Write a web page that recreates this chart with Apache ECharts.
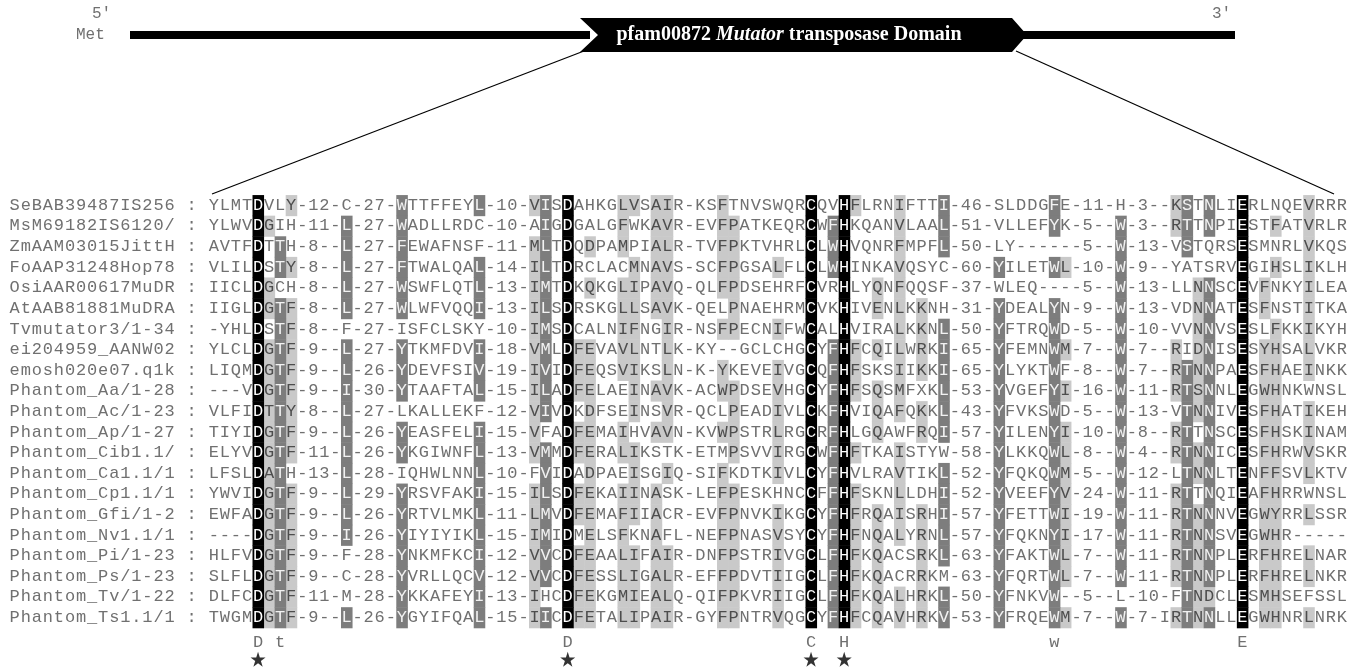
<!DOCTYPE html>
<html>
<head>
<meta charset="utf-8">
<script src="https://cdn.jsdelivr.net/npm/echarts/dist/echarts.min.js"></script>
<style>
html,body{margin:0;padding:0;background:#fff;}
#chart{width:1363px;height:669px;}
</style>
</head>
<body>
<div id="chart"></div>
<script>
// ---------------- DATA ----------------
const names = [
  "SeBAB39487IS256","MsM69182IS6120/","ZmAAM03015JittH","FoAAP31248Hop78","OsiAAR00617MuDR",
  "AtAAB81881MuDRA","Tvmutator3/1-34","ei204959_AANW02","emosh020e07.q1k","Phantom_Aa/1-28",
  "Phantom_Ac/1-23","Phantom_Ap/1-27","Phantom_Cib1.1/","Phantom_Ca1.1/1","Phantom_Cp1.1/1",
  "Phantom_Gfi/1-2","Phantom_Nv1.1/1","Phantom_Pi/1-23","Phantom_Ps/1-23","Phantom_Tv/1-22",
  "Phantom_Ts1.1/1"
];
const seqs = [
  "YLMTDVLY-12-C-27-WTTFFEYL-10-VISDAHKGLVSAIR-KSFTNVSWQRCQVHFLRNIFTTI-46-SLDDGFE-11-H-3--KSTNLIERLNQEVRRR",
  "YLWVDGIH-11-L-27-WADLLRDC-10-AIGDGALGFWKAVR-EVFPATKEQRCWFHKQANVLAAL-51-VLLEFYK-5--W-3--RTTNPIESTFATVRLR",
  "AVTFDTTH-8--L-27-FEWAFNSF-11-MLTDQDPAMPIALR-TVFPKTVHRLCLWHVQNRFMPFL-50-LY------5--W-13-VSTQRSESMNRLVKQS",
  "VLILDSTY-8--L-27-FTWALQAL-14-ILTDRCLACMNAVS-SCFPGSALFLCLWHINKAVQSYC-60-YILETWL-10-W-9--YATSRVEGIHSLIKLH",
  "IICLDGCH-8--L-27-WSWFLQTL-13-IMTDKQKGLIPAVQ-QLFPDSEHRFCVRHLYQNFQQSF-37-WLEQ----5--W-13-LLNNSCEVFNKYILEA",
  "IIGLDGTF-8--L-27-WLWFVQQI-13-ILSDRSKGLLSAVK-QELPNAEHRMCVKHIVENLKKNH-31-YDEALYN-9--W-13-VDNNATESFNSTITKA",
  "-YHLDSTF-8--F-27-ISFCLSKY-10-IMSDCALNIFNGIR-NSFPECNIFWCALHVIRALKKNL-50-YFTRQWD-5--W-10-VVNNVSESLFKKIKYH",
  "YLCLDGTF-9--L-27-YTKMFDVI-18-VMLDFEVAVLNTLK-KY--GCLCHGCYFHFCQILWRKI-65-YFEMNWM-7--W-7--RIDNISESYHSALVKR",
  "LIQMDGTF-9--L-26-YDEVFSIV-19-IVIDFEQSVIKSLN-K-YKEVEIVGCQFHFSKSIIKKI-65-YLYKTWF-8--W-7--RTNNPAESFHAEINKK",
  "---VDGTF-9--I-30-YTAAFTAL-15-ILADFELAEINAVK-ACWPDSEVHGCYFHFSQSMFXKL-53-YVGEFYI-16-W-11-RTSNNLEGWHNKWNSL",
  "VLFIDTTY-8--L-27-LKALLEKF-12-VIVDKDFSEINSVR-QCLPEADIVLCKFHVIQAFQKKL-43-YFVKSWD-5--W-13-VTNNIVESFHATIKEH",
  "TIYIDGTF-9--L-26-YEASFELI-15-VFADFEMAIHVAVN-KVWPSTRLRGCRFHLGQAWFRQI-57-YILENYI-10-W-8--RTTNSCESFHSKINAM",
  "ELYVDGTF-11-L-26-YKGIWNFL-13-VMMDFERALIKSTK-ETMPSVVIRGCWFHFTKAISTYW-58-YLKKQWL-8--W-4--RTNNICESFHRWVSKR",
  "LFSLDATH-13-L-28-IQHWLNNL-10-FVIDADPAEISGIQ-SIFKDTKIVLCYFHVLRAVTIKL-52-YFQKQWM-5--W-12-LTNNLTENFFSVLKTV",
  "YWVIDGTF-9--L-29-YRSVFAKI-15-ILSDFEKAIINASK-LEFPESKHNCCFFHFSKNLLDHI-52-YVEEFYV-24-W-11-RTTNQIEAFHRRWNSL",
  "EWFADGTF-9--L-26-YRTVLMKL-11-LMVDFEMAFIIACR-EVFPNVKIKGCYFHFRQAISRHI-57-YFETTWI-19-W-11-RTNNNVEGWYRRLSSR",
  "----DGTF-9--I-26-YIYIYIKL-15-IMIDMELSFKNAFL-NEFPNASVSYCYFHFNQALYRNL-57-YFQKNYI-17-W-11-RTNNSVEGWHR-----",
  "HLFVDGTF-9--F-28-YNKMFKCI-12-VVCDFEAALIFAIR-DNFPSTRIVGCLFHFKQACSRKL-63-YFAKTWL-7--W-11-RTNNPLERFHRELNAR",
  "SLFLDGTF-9--C-28-YVRLLQCV-12-VVCDFESSLIGALR-EFFPDVTIIGCLFHFKQACRRKM-63-YFQRTWL-7--W-11-RTNNPLERFHRELNKR",
  "DLFCDGTF-11-M-28-YKKAFEYI-13-IHCDFEKGMIEALQ-QIFPKVRIIGCLFHFKQALHRKL-50-YFNKVW--5--L-10-FTNDCLESMHSEFSSL",
  "TWGMDGTF-9--L-26-YGYIFQAL-15-IICDFETALIPAIR-GYFPNTRVQGCYFHFCQAVHRKV-53-YFRQEWM-7--W-7-IRTNNLLEGWHNRLNRK"
];
// consensus line and catalytic-residue stars (column numbers of the alignment)
const consensusCols  = [5, 7, 33, 55, 58, 77, 94];
const consensusChars = ["D","t","D","C","H","w","E"];
const starCols = [5, 33, 55, 58];
// shading: 100% (black) columns, and per-column rows in dark / light grey
const blackCols = [5, 33, 55, 58, 94];
const darkCells = {
  7:  [3,4,6,7,8,9,10,11,12,13,14,15,16,17,18,19,20,21],
  13: [2,3,4,5,6,8,9,10,11,12,13,14,15,16,17,21],
  18: [1,2,3,4,5,6,8,9,10,12,13,15,16,17,18,19,20,21],
  25: [1,4,5,6,8,9,10,12,13,14,15,16,17,18,19,20,21],
  31: [1,2,3,4,5,6,7,8,9,10,11,13,14,15,16,17,18,19,21],
  57: [2,3,4,8,9,10,11,12,13,14,15,16,17,18,19,20,21],
  67: [1,2,3,7,8,9,10,11,12,14,15,16,17,18,20,21],
  72: [4,6,7,8,9,10,11,12,13,14,15,16,17,18,19,20,21],
  77: [1,2,4,6,7,8,9,10,11,12,13,14,15,16,17,18,19,20,21],
  83: [2,3,4,5,6,7,8,9,10,11,12,13,14,15,16,17,18,19,21],
  89: [1,2,3,9,10,11,12,13,14,15,16,17,18,19,20,21],
  91: [1,2,5,6,7,8,9,10,11,12,13,14,15,16,17,18,19,21]
};
const lightCells = {
  6:   [2,5,6,8,9,10,11,12,13,14,15,16,17,18,19,20,21],
  8:   [1,4,6,7,8,9,10,11,12,13,15,16,17,18,19,20,21],
  30:  [1,3,4,5,6,7,8,9,10,11,12,13,15,16,17,18,19,20,21],
  34:  [8,9,10,12,13,15,16,18,19,20,21],
  35:  [3,5,8,9,10,11,12,13,14,15,16,17,18,19,20,21],
  38:  [1,2,3,5,6,7,8,9,12,13,15,16,17,18,19,20,21],
  39:  [1,4,5,6,7,8,9,10,11,13,14,15,16,18,19,20,21],
  41:  [1,2,3,4,5,6,10,12,15,16,17,18,19,20,21],
  42:  [1,2,3,4,5,6,7,8,9,10,11,12,14,18,19,20,21],
  47:  [1,2,3,4,5,7,9,10,12,14,15,16,17,18,19,20,21],
  48:  [2,3,4,5,6,7,10,11,12,13,15,16,17,18,19,20,21],
  52:  [4,7,9,10,11,12,13,14,16,17,18,19,20,21],
  59:  [1,8,9,10,13,15,16,17,18,19,20,21],
  61:  [5,6,8,10,11,12,16,17,18,19,20,21],
  63:  [1,2,3,4,5,6,7,8,9,10,11,13,14,15,16,17,20,21],
  65:  [6,7,8,9,11,12,16,17,18,19,20,21],
  78:  [4,8,10,12,13,14,15,16,17,18,19,21],
  88:  [1,2,8,9,10,12,13,15,16,17,18,19,21],
  90:  [5,6,7,8,9,10,11,13,14,16,17,18,19,20,21],
  91:  [20],
  96:  [5,6,8,9,10,11,12,13,14,15,16,17,18,19,20,21],
  97:  [2,4,7,8,9,10,11,12,13,14,15,16,17,18,19,20,21],
  100: [1,2,3,4,5,6,7,8,9,11,12,13,14,16,18,19,21]
};

// ---------------- BUILD ----------------
const nRows = seqs.length;
const level = {};                       // "col,row" -> 1 light, 2 dark, 3 black
Object.keys(lightCells).forEach(c => lightCells[c].forEach(r => level[c + "," + r] = 1));
Object.keys(darkCells).forEach(c => darkCells[c].forEach(r => level[c + "," + r] = 2));
blackCols.forEach(c => { for (let r = 1; r <= nRows; r++) level[c + "," + r] = 3; });

const shadeData = Object.keys(level).map(k => {
  const p = k.split(",").map(Number);
  return [p[0], p[1], level[k]];
});
const resData = [];
seqs.forEach((s, i) => {
  for (let j = 0; j < s.length; j++) {
    resData.push([j + 1, i + 1, level[(j + 1) + "," + (i + 1)] || 0]);
  }
});
const nameData = [];
names.forEach((n, i) => {
  const label = n + " :";
  for (let k = 0; k < label.length; k++) {
    if (label[k] !== " ") nameData.push([k - 17, i + 1, k]);
  }
});

const CONS_ROW = 22.2;
const STAR_ROW = 23.03;
const FONT = '17px "Liberation Mono", "DejaVu Sans Mono", monospace';
const shadeColors = [null, "#c9c9c9", "#7d7d7d", "#000000"];
const textColors  = ["#707070", "#4d4d4d", "#f2f2f2", "#ffffff"];

function textEl(api, ch, color) {
  const c = api.coord([api.value(0), api.value(1)]);
  return {
    type: "text",
    x: c[0], y: c[1],
    style: { text: ch, fill: color, font: FONT, align: "center", verticalAlign: "middle" },
    silent: true
  };
}

const chart = echarts.init(document.getElementById("chart"), null, { renderer: "canvas" });
chart.setOption({
  animation: false,
  backgroundColor: "#ffffff",
  grid: { left: 3.66, top: 184.76, width: 1349.32, height: 485.04 },
  xAxis: { type: "value", min: -18, max: 104, show: false },
  yAxis: { type: "value", min: 0, max: 23.5, inverse: true, show: false },
  graphic: [
    { type: "text", left: 92, top: 6, style: { text: "5\u2032", font: '16px "Liberation Mono", monospace', fill: "#707070" } },
    { type: "text", left: 1212, top: 6, style: { text: "3\u2032", font: '16px "Liberation Mono", monospace', fill: "#707070" } },
    { type: "text", left: 76, top: 27, style: { text: "Met", font: '16px "Liberation Mono", monospace', fill: "#707070" } },
    { type: "rect", shape: { x: 130, y: 31, width: 460, height: 8 }, style: { fill: "#000" } },
    { type: "rect", shape: { x: 1015, y: 31, width: 220, height: 8 }, style: { fill: "#000" } },
    { type: "polygon", shape: { points: [[580, 18], [1012, 18], [1027, 35], [1012, 52], [580, 52], [598, 35]] }, style: { fill: "#000" } },
    { type: "text", x: 789, y: 35, style: {
        text: "{b|pfam00872 }{i|Mutator}{b| transposase Domain}",
        align: "center", verticalAlign: "middle",
        rich: {
          b: { fontFamily: '"Liberation Serif", serif', fontWeight: "bold", fontSize: 20, fill: "#fff", color: "#fff" },
          i: { fontFamily: '"Liberation Serif", serif', fontWeight: "bold", fontStyle: "italic", fontSize: 20, fill: "#fff", color: "#fff" }
        } } },
    { type: "line", shape: { x1: 584, y1: 51, x2: 212, y2: 194 }, style: { stroke: "#000", lineWidth: 1.2 } },
    { type: "line", shape: { x1: 1016, y1: 51, x2: 1334, y2: 194 }, style: { stroke: "#000", lineWidth: 1.2 } }
  ],
  series: [
    {
      type: "custom", name: "shade", silent: true,
      data: shadeData,
      renderItem: function (params, api) {
        const c = api.coord([api.value(0), api.value(1)]);
        const s = api.size([1, 1]);
        return {
          type: "rect",
          shape: { x: c[0] - s[0] / 2, y: c[1] - s[1] / 2, width: s[0] + 0.5, height: s[1] + 0.5 },
          style: { fill: shadeColors[api.value(2)] }
        };
      }
    },
    {
      type: "custom", name: "residues", silent: true,
      data: resData,
      renderItem: function (params, api) {
        const col = api.value(0), row = api.value(1);
        return textEl(api, seqs[row - 1][col - 1], textColors[api.value(2)]);
      }
    },
    {
      type: "custom", name: "names", silent: true,
      data: nameData,
      renderItem: function (params, api) {
        const row = api.value(1), k = api.value(2);
        return textEl(api, (names[row - 1] + " :")[k], "#707070");
      }
    },
    {
      type: "custom", name: "consensus", silent: true,
      data: consensusCols.map(c => [c, CONS_ROW]),
      renderItem: function (params, api) {
        return textEl(api, consensusChars[params.dataIndex], "#707070");
      }
    },
    {
      type: "scatter", name: "stars", silent: true,
      symbol: "path://M50,0 L62,36 L100,36 L69,58 L81,95 L50,72 L19,95 L31,58 L0,36 L38,36 Z",
      symbolSize: 15,
      itemStyle: { color: "#000" },
      data: starCols.map(c => [c, STAR_ROW])
    }
  ]
});
</script>
</body>
</html>
